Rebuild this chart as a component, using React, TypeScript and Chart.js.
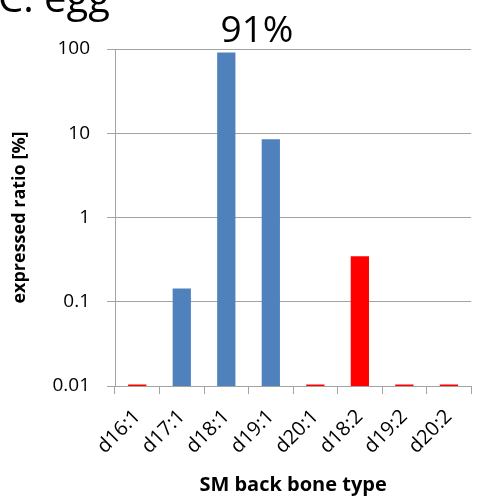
import React, { useEffect, useRef } from "react";
import { Chart, registerables } from "chart.js";

Chart.register(...registerables);

const categories = ["d16:1", "d17:1", "d18:1", "d19:1", "d20:1", "d18:2", "d19:2", "d20:2"];
const values = [0.0104, 0.144, 91, 8.5, 0.0104, 0.347, 0.0104, 0.0104];
const barColors = ["#FF0000", "#4F81BD", "#4F81BD", "#4F81BD", "#FF0000", "#FF0000", "#FF0000", "#FF0000"];
const yTicks = [0.01, 0.1, 1, 10, 100];
const yTickLabels = ["0.01", "0.1", "1", "10", "100"];
const panelTitle = "C. egg";
const peakLabel = "91%";
const xTitle = "SM back bone type";
const yTitle = "expressed ratio [%]";

const FONT = "'Open Sans', 'Noto Sans', sans-serif";
const GRAY = "#a3a3a3";

const textPlugin = {
  id: "textPlugin",
  afterDraw(chart: any) {
    const ctx = chart.ctx;
    ctx.save();
    ctx.fillStyle = "#000";
    ctx.textBaseline = "alphabetic";
    ctx.textAlign = "left";
    ctx.font = `40px ${FONT}`;
    ctx.fillText(panelTitle, -2, 12);
    ctx.textAlign = "center";
    ctx.font = `37px ${FONT}`;
    ctx.fillText(peakLabel, 257, 42);
    ctx.restore();
  },
};

export default function App() {
  const ref = useRef<HTMLCanvasElement>(null);
  useEffect(() => {
    if (!ref.current) return;
    const chart = new Chart(ref.current, {
      type: "bar",
      data: {
        labels: categories,
        datasets: [
          {
            data: values,
            backgroundColor: barColors,
            borderWidth: 0,
            barPercentage: 0.41,
            categoryPercentage: 1,
          },
        ],
      },
      options: {
        animation: false,
        responsive: true,
        maintainAspectRatio: false,
        layout: { padding: { top: 49, right: 2, bottom: 0, left: 0 } },
        plugins: { legend: { display: false }, tooltip: { enabled: false }, title: { display: false } },
        scales: {
          x: {
            grid: { drawOnChartArea: false, drawTicks: true, tickLength: 8, color: GRAY, offset: true },
            border: { color: GRAY, width: 1 },
            ticks: { color: "#000", font: { family: FONT, size: 20 }, minRotation: 45, maxRotation: 45, padding: 11 },
            title: { display: true, text: xTitle, color: "#000", font: { family: FONT, size: 20, weight: "bold" }, padding: { top: 0, bottom: 1 } },
            afterFit: (s: any) => { s.height = 112; },
          },
          y: {
            type: "logarithmic",
            min: 0.01,
            max: 100,
            afterBuildTicks: (s: any) => { s.ticks = yTicks.map((v) => ({ value: v })); },
            grid: { color: GRAY, tickLength: 8, drawTicks: true },
            border: { color: GRAY, width: 1 },
            ticks: {
              color: "#000",
              font: { family: FONT, size: 19 },
              padding: 17,
              callback: (v: any) => { const i = yTicks.indexOf(Number(v)); return i >= 0 ? yTickLabels[i] : ""; },
            },
            title: { display: true, text: yTitle, color: "#000", font: { family: FONT, size: 18, weight: "bold" }, padding: { top: 9, bottom: 0 } },
            afterFit: (s: any) => { s.width = 115; },
          },
        },
      },
      plugins: [textPlugin],
    });
    return () => chart.destroy();
  }, []);
  return (
    <div style={{ position: "fixed", left: 0, top: 0, width: 477, height: 498, background: "#fff" }}>
      <canvas ref={ref} />
    </div>
  );
}
